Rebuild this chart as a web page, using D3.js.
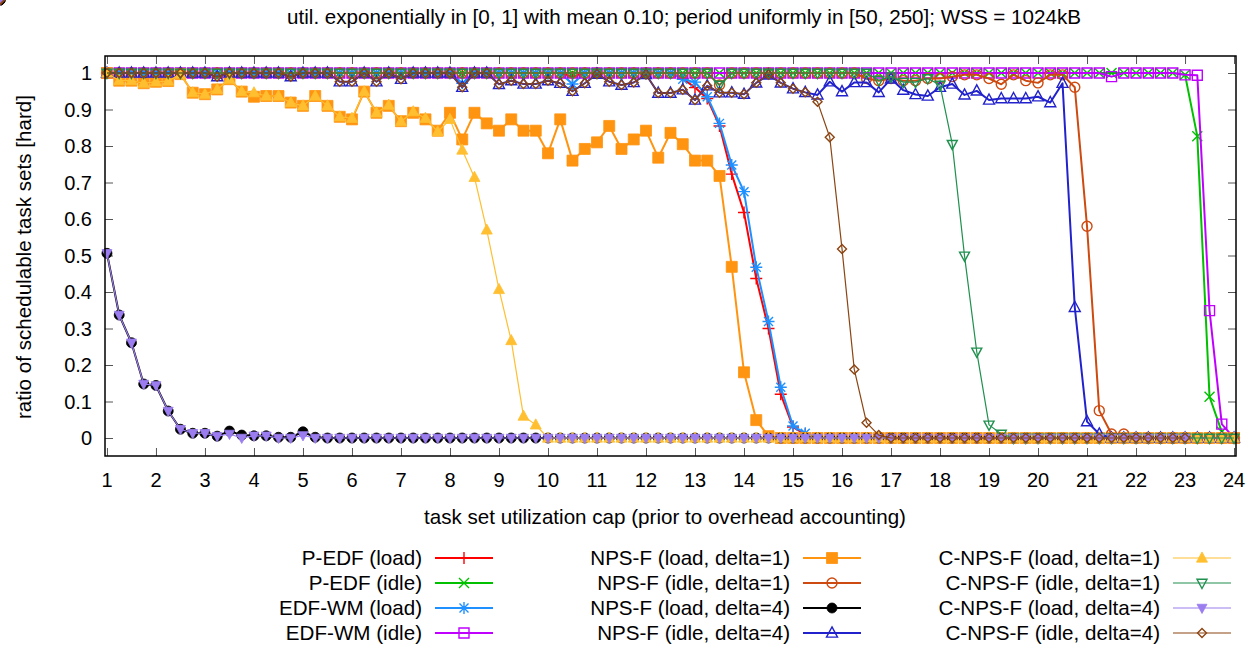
<!DOCTYPE html>
<html>
<head>
<meta charset="utf-8">
<script src="https://cdn.jsdelivr.net/npm/d3@7"></script>
<style>
  html, body { margin: 0; padding: 0; background: #fff; }
  svg text { font-family: "Liberation Sans", Arial, sans-serif; fill: #000; }
</style>
</head>
<body>
<svg id="chart" width="1258" height="653"></svg>
<script>
const titleText = "util. exponentially in [0, 1] with mean 0.10; period uniformly in [50, 250]; WSS = 1024kB";
const xLabel = "task set utilization cap (prior to overhead accounting)";
const yLabel = "ratio of schedulable task sets [hard]";
const xTicks = [1,2,3,4,5,6,7,8,9,10,11,12,13,14,15,16,17,18,19,20,21,22,23,24];
const yTicks = [0,0.1,0.2,0.3,0.4,0.5,0.6,0.7,0.8,0.9,1];

const xs = [1,1.25,1.5,1.75,2,2.25,2.5,2.75,3,3.25,3.5,3.75,4,4.25,4.5,4.75,5,5.25,5.5,5.75,6,6.25,6.5,6.75,7,7.25,7.5,7.75,8,8.25,8.5,8.75,9,9.25,9.5,9.75,10,10.25,10.5,10.75,11,11.25,11.5,11.75,12,12.25,12.5,12.75,13,13.25,13.5,13.75,14,14.25,14.5,14.75,15,15.25,15.5,15.75,16,16.25,16.5,16.75,17,17.25,17.5,17.75,18,18.25,18.5,18.75,19,19.25,19.5,19.75,20,20.25,20.5,20.75,21,21.25,21.5,21.75,22,22.25,22.5,22.75,23,23.25,23.5,23.75,24];

const pedfLoad = [
1,1,1,1, 1,1,1,1, 1,1,1,1, 1,1,1,1, 1,1,1,1, 1,1,1,1,
1,1,1,1, 1,1,1,1, 1,1,1,1, 1,1,0.99,1, 1,1,1,1, 1,1,1,0.985,
0.96,0.93,0.855,0.723, 0.618,0.437,0.30,0.12, 0.03,0.01,0,0, 0,0,0,0,
0,0,0,0, 0,0,0,0, 0,0,0,0, 0,0,0,0, 0,0,0,0, 0,0,0,0, 0,0,0,0, 0];

const pedfIdle = [
1,1,1,1, 1,1,1,1, 1,1,1,1, 1,1,1,1, 1,1,1,1, 1,1,1,1,
1,1,1,1, 1,1,1,1, 1,1,1,1, 1,1,1,1, 1,1,1,1, 1,1,1,1,
1,1,1,1, 1,1,1,1, 1,1,1,1, 1,1,1,1, 1,1,1,1, 1,1,1,1,
1,1,1,1, 1,1,1,1, 1,1,1,1, 1,1,1,1, 0.995,0.827,0.113,0.017, 0];

const edfwmLoad = [
1,1,1,1, 1,1,1,1, 1,1,1,1, 1,1,1,1, 1,1,1,1, 1,1,1,1,
1,1,1,1, 1,0.972,1,1, 1,1,1,1, 1,1,0.97,1, 1,1,1,1, 1,1,1,0.983,
0.975,0.935,0.862,0.748, 0.675,0.468,0.319,0.139, 0.033,0.013,0,0, 0,0,0,0,
0,0,0,0, 0,0,0,0, 0,0,0,0, 0,0,0,0, 0,0,0,0, 0,0,0,0, 0,0,0,0, 0];

const edfwmIdle = [
1,1,1,1, 1,1,1,1, 1,1,1,1, 1,1,1,1, 1,1,1,1, 1,1,1,1,
1,1,1,1, 1,1,1,1, 1,1,1,1, 1,1,1,1, 1,1,1,1, 1,1,1,1,
1,1,1,1, 1,1,1,1, 1,1,1,1, 1,1,1,1, 1,1,1,1, 1,1,1,1,
1,1,1,1, 1,1,1,1, 1,1,0.99,1, 1,1,1,1, 0.995,0.994,0.349,0.038, 0];

const npsfLoad1 = [
1.0,0.979,0.979,0.972, 0.976,0.978,0.997,0.946, 0.942,0.955,0.983,0.949,
0.935,0.937,0.937,0.919, 0.91,0.937,0.91,0.88, 0.873,0.949,0.891,0.91,
0.868,0.891,0.873,0.842, 0.891,0.818,0.891,0.862, 0.842,0.873,0.842,0.842,
0.78,0.873,0.76,0.792, 0.81,0.855,0.792,0.818, 0.842,0.768,0.836,0.805,
0.76,0.76,0.718,0.469, 0.18,0.049,0.005,0, 0,0,0,0, 0,0,0,0,
0,0,0,0, 0,0,0,0, 0,0,0,0, 0,0,0,0, 0,0,0,0, 0,0,0,0, 0,0,0,0, 0];

const npsfIdle1 = [
1,1,1,1, 1,1,1,1, 1,1,1,1, 1,1,1,1, 1,1,1,1, 1,1,1,1,
1,1,1,1, 1,1,1,1, 1,1,1,1, 1,1,1,1, 1,1,1,1, 1,1,1,1,
1,1,0.967,1, 1,1,1,1, 1,1,1,1, 1,1,0.985,0.979,
0.985,0.979,0.979,0.985, 0.985,0.99,0.995,0.995, 0.985,0.969,0.995,0.979,
0.973,0.995,0.995,0.961, 0.58,0.075,0.011,0.011, 0,0,0,0, 0,0,0,0, 0];

const npsfLoad4 = [
0.506,0.337,0.261,0.148, 0.144,0.074,0.024,0.013, 0.013,0.005,0.019,0.008,
0.006,0.006,0.002,0.002, 0.017,0.002,0,0, 0,0,0,0, 0,0,0,0, 0,0,0,0,
0,0,0,0, 0,0,0,0, 0,0,0,0, 0,0,0,0, 0,0,0,0, 0,0,0,0, 0,0,0,0,
0,0,0,0, 0,0,0,0, 0,0,0,0, 0,0,0,0, 0,0,0,0, 0,0,0,0, 0,0,0,0, 0];

const npsfIdle4 = [
1,1,1,1, 1,1,1,1, 1,0.99,1,1, 1,1,1,0.99, 1,1,1,0.976,
0.976,1,0.976,1, 0.983,1,1,1, 1,0.961,1,1, 0.969,0.979,0.97,0.97,
0.979,0.972,0.95,0.972, 0.997,0.976,0.967,0.974, 0.996,0.945,0.945,0.954,
0.926,0.965,0.946,0.946, 0.942,0.973,0.995,0.973, 0.957,0.947,0.94,0.976,
0.949,0.974,0.974,0.947, 0.984,0.953,0.941,0.937, 0.961,0.97,0.94,0.951,
0.926,0.93,0.93,0.93, 0.935,0.919,0.972,0.358, 0.045,0.011,0,0,
0,0,0,0, 0,0,0,0, 0];

const cnpsfLoad1 = [
1.0,0.979,0.979,0.972, 0.976,0.978,0.997,0.946, 0.942,0.955,0.983,0.949,
0.946,0.937,0.937,0.919, 0.91,0.937,0.91,0.88, 0.876,0.949,0.891,0.912,
0.867,0.894,0.876,0.839, 0.873,0.789,0.714,0.57, 0.407,0.267,0.06,0.036,
0,0,0,0, 0,0,0,0, 0,0,0,0, 0,0,0,0, 0,0,0,0, 0,0,0,0, 0,0,0,0,
0,0,0,0, 0,0,0,0, 0,0,0,0, 0,0,0,0, 0,0,0,0, 0,0,0,0, 0,0,0,0, 0];

const cnpsfIdle1 = [
1,1,1,1, 1,1,1,1, 1,1,1,1, 1,1,1,1, 1,1,1,1, 1,1,1,1,
1,1,1,1, 1,1,1,1, 1,1,1,1, 1,1,1,1, 1,1,1,1, 1,1,1,1,
1,1,0.967,1, 1,1,1,1, 1,1,1,1, 1,1,1,0.98,
0.99,0.975,0.975,0.985, 0.967,0.805,0.499,0.236, 0.036,0.011,0,0,
0,0,0,0, 0,0,0,0, 0,0,0,0, 0,0,0,0, 0];

const cnpsfLoad4 = [
0.506,0.337,0.261,0.148, 0.144,0.074,0.024,0.013, 0.013,0.005,0.011,0,
0.006,0.006,0,0, 0.007,0,0,0, 0,0,0,0, 0,0,0,0, 0,0,0,0,
0,0,0,0, 0,0,0,0, 0,0,0,0, 0,0,0,0, 0,0,0,0, 0,0,0,0, 0,0,0,0,
0,0,0,0, 0,0,0,0, 0,0,0,0, 0,0,0,0, 0,0,0,0, 0,0,0,0, 0,0,0,0, 0];

const cnpsfIdle4 = [
1,1,1,1, 1,1,1,1, 1,0.99,1,1, 1,1,1,0.99, 1,1,1,0.976,
0.976,1,0.976,1, 0.983,1,1,1, 1,0.961,1,1, 0.969,0.979,0.97,0.97,
0.979,0.972,0.95,0.972, 0.997,0.976,0.967,0.974, 0.996,0.945,0.945,0.954,
0.926,0.965,0.946,0.946, 0.942,0.973,0.995,0.973, 0.957,0.947,0.921,0.824,
0.518,0.188,0.042,0.008, 0,0,0,0, 0,0,0,0, 0,0,0,0, 0,0,0,0,
0,0,0,0, 0,0,0,0, 0];

const seriesNames = ["P-EDF (load)","P-EDF (idle)","EDF-WM (load)","EDF-WM (idle)",
  "NPS-F (load, delta=1)","NPS-F (idle, delta=1)","NPS-F (load, delta=4)","NPS-F (idle, delta=4)",
  "C-NPS-F (load, delta=1)","C-NPS-F (idle, delta=1)","C-NPS-F (load, delta=4)","C-NPS-F (idle, delta=4)"];
const seriesValues = [pedfLoad,pedfIdle,edfwmLoad,edfwmIdle,npsfLoad1,npsfIdle1,npsfLoad4,npsfIdle4,
  cnpsfLoad1,cnpsfIdle1,cnpsfLoad4,cnpsfIdle4];
const seriesColors = ["#ff0000","#00c000","#1e90ff","#c000ff","#ff9410","#cd4a10","#000000","#2222cc",
  "#ffbf30","#20904f","#9b7df0","#8b4513"];
const seriesMarkers = ["plus","cross","star","square","squareF","circle","circleF","tri",
  "triF","triDown","triDownF","diamond"];
const seriesWidths = [2,2,2,2,2,2,2,2,1.2,1.2,1.2,1.2];

// ---- layout ----
const svg = d3.select("#chart");
const plot = {left:105, right:1236, top:56, bottom:456};
const x = d3.scaleLinear().domain([0.96, 24.04]).range([plot.left, plot.right]);
const y = d3.scaleLinear().domain([-0.0493, 1.0466]).range([plot.bottom, plot.top]);
const FS = 20;
const LFS = 20.6;

// ticks (inward, mirrored)
const tickLen = 8;
const axBottom = d3.axisBottom(x).tickValues(xTicks).tickSize(-tickLen).tickFormat("");
const axTop = d3.axisTop(x).tickValues(xTicks).tickSize(-tickLen).tickFormat("");
const axLeft = d3.axisLeft(y).tickValues(yTicks).tickSize(-tickLen).tickFormat("");
const axRight = d3.axisRight(y).tickValues(yTicks).tickSize(-tickLen).tickFormat("");
function styleAxis(g){ g.select(".domain").remove(); g.selectAll(".tick line").attr("stroke","#555").attr("stroke-width",1); }
svg.append("g").attr("transform",`translate(0,${plot.bottom})`).call(axBottom).call(styleAxis);
svg.append("g").attr("transform",`translate(0,${plot.top})`).call(axTop).call(styleAxis);
svg.append("g").attr("transform",`translate(${plot.left},0)`).call(axLeft).call(styleAxis);
svg.append("g").attr("transform",`translate(${plot.right},0)`).call(axRight).call(styleAxis);

// tick labels
svg.append("g").selectAll("text").data(xTicks).join("text")
  .attr("x", d => x(d)).attr("y", 487).attr("text-anchor","middle")
  .attr("font-size", FS).text(d => d);
svg.append("g").selectAll("text").data(yTicks).join("text")
  .attr("x", 92).attr("y", d => y(d) + 7).attr("text-anchor","end")
  .attr("font-size", FS).text(d => d3.format("")(d));

// markers
function markerPath(type, h){
  const p = d3.path();
  switch(type){
    case "plus": p.moveTo(-h,0); p.lineTo(h,0); p.moveTo(0,-h); p.lineTo(0,h); break;
    case "cross": p.moveTo(-h,-h); p.lineTo(h,h); p.moveTo(-h,h); p.lineTo(h,-h); break;
    case "star": { p.moveTo(-h,0); p.lineTo(h,0); p.moveTo(0,-h); p.lineTo(0,h);
      const k=h*0.75; p.moveTo(-k,-k); p.lineTo(k,k); p.moveTo(-k,k); p.lineTo(k,-k); break; }
    case "square": case "squareF": p.rect(-h,-h,2*h,2*h); break;
    case "circle": case "circleF": p.arc(0,0,h,0,2*Math.PI); p.closePath(); break;
    case "tri": case "triF": p.moveTo(0,-h*1.1); p.lineTo(h,h*0.75); p.lineTo(-h,h*0.75); p.closePath(); break;
    case "triDown": case "triDownF": p.moveTo(0,h*1.1); p.lineTo(h,-h*0.75); p.lineTo(-h,-h*0.75); p.closePath(); break;
    case "diamond": p.moveTo(0,-h); p.lineTo(h,0); p.lineTo(0,h); p.lineTo(-h,0); p.closePath(); break;
  }
  return p.toString();
}
const markerSize = {plus:6, cross:5, star:6, square:5, squareF:5.5, circle:5, circleF:5, tri:5.5, triF:5.5, triDown:5, triDownF:5, diamond:4.5};
function drawMarker(g, type, color, cx, cy){
  const filled = type.endsWith("F");
  g.append("path").attr("d", markerPath(type, markerSize[type]))
    .attr("transform", `translate(${cx},${cy})`)
    .attr("fill", filled ? color : "none")
    .attr("stroke", color)
    .attr("stroke-width", filled ? 0.8 : 1.4);
}

// series
const line = d3.line().x(d => x(d[0])).y(d => y(d[1]));
const plotG = svg.append("g");
seriesValues.forEach((vals, si) => {
  const pts = xs.map((xv, i) => [xv, vals[i]]);
  const g = plotG.append("g");
  g.append("path").datum(pts).attr("d", line).attr("fill","none")
    .attr("stroke", seriesColors[si]).attr("stroke-width", seriesWidths[si]).attr("stroke-linejoin","round");
  pts.forEach(p => drawMarker(g, seriesMarkers[si], seriesColors[si], x(p[0]), y(p[1])));
});

// border
svg.append("rect").attr("x", plot.left).attr("y", plot.top)
  .attr("width", plot.right - plot.left).attr("height", plot.bottom - plot.top)
  .attr("fill","none").attr("stroke","#000").attr("stroke-width",1.5);

// labels
svg.append("text").attr("x", 684).attr("y", 24).attr("text-anchor","middle").attr("font-size", LFS).text(titleText);
svg.append("text").attr("x", 665).attr("y", 524).attr("text-anchor","middle").attr("font-size", LFS).text(xLabel);
svg.append("text").attr("transform", "translate(31,257) rotate(-90)").attr("text-anchor","middle").attr("font-size", LFS).text(yLabel);

// legend
const legTextEnd = [422, 790, 1160];
const legLine0 = [435, 803, 1173];
const legLen = 58;
const legRow0 = 558, legRowStep = 25;
seriesNames.forEach((name, si) => {
  const c = Math.floor(si / 4), r = si % 4;
  const yy = legRow0 + r * legRowStep;
  const g = svg.append("g");
  g.append("text").attr("x", legTextEnd[c]).attr("y", yy + 7).attr("text-anchor","end").attr("font-size", LFS).text(name);
  g.append("line").attr("x1", legLine0[c]).attr("x2", legLine0[c] + legLen).attr("y1", yy).attr("y2", yy)
    .attr("stroke", seriesColors[si]).attr("stroke-width", seriesWidths[si]);
  drawMarker(g, seriesMarkers[si], seriesColors[si], legLine0[c] + legLen/2, yy);
});
</script>
</body>
</html>
